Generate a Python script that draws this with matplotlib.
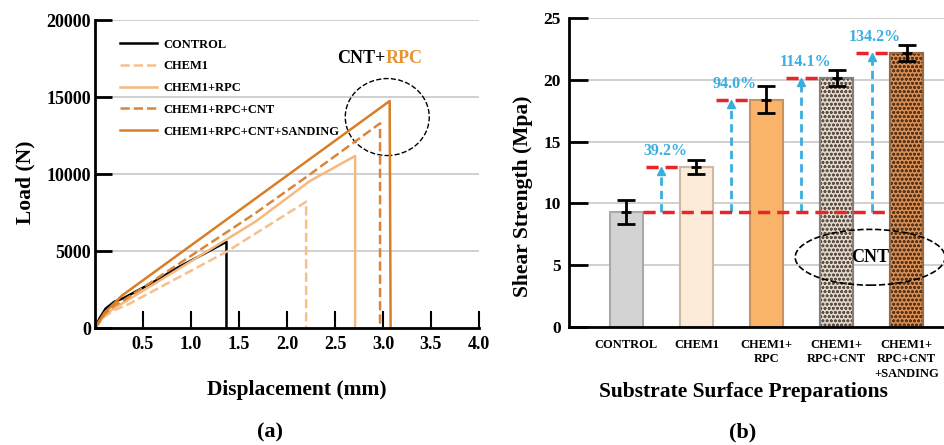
import numpy as np
import matplotlib
matplotlib.use("Agg")
import matplotlib.pyplot as plt
from matplotlib.patches import Ellipse

plt.rcParams['font.family'] = ['Liberation Serif', 'DejaVu Serif']
plt.rcParams['font.weight'] = 'bold'
plt.rcParams['hatch.linewidth'] = 0.8

# ---- (a) load-displacement curves ----
control_x = [0, 0.05, 0.11, 0.2, 0.3, 0.6, 0.87, 1.1, 1.37, 1.37]
control_y = [0, 650, 1250, 1700, 1950, 2950, 3950, 4700, 5600, 0]
chem1_x = [0, 0.1, 0.2, 0.35, 1.37, 2.2, 2.2]
chem1_y = [0, 750, 1150, 1550, 4950, 8200, 0]
chem1_rpc_x = [0, 0.1, 0.2, 0.3, 1.67, 2.24, 2.71, 2.71]
chem1_rpc_y = [0, 800, 1300, 1650, 6900, 9550, 11170, 0]
chem1_rpc_cnt_x = [0, 0.1, 0.2, 0.3, 1.67, 2.2, 2.97, 2.97]
chem1_rpc_cnt_y = [0, 900, 1450, 1800, 7450, 9800, 13290, 0]
sanding_x = [0, 0.1, 0.2, 0.28, 3.07, 3.08]
sanding_y = [0, 1000, 1600, 2100, 14740, 0]

curve_labels = ["CONTROL", "CHEM1", "CHEM1+RPC", "CHEM1+RPC+CNT", "CHEM1+RPC+CNT+SANDING"]
curve_colors = ["#000000", "#F6C08C", "#F5B97F", "#D9863A", "#D87F26"]
curve_styles = ["-", "--", "-", "--", "-"]

# ---- (b) shear strength ----
preps = ["CONTROL", "CHEM1", "CHEM1+\nRPC", "CHEM1+\nRPC+CNT", "CHEM1+\nRPC+CNT\n+SANDING"]
strength = [9.3, 12.95, 18.4, 20.2, 22.2]
strength_err = [1.0, 0.55, 1.1, 0.65, 0.65]
increase_labels = ["39.2%", "94.0%", "114.1%", "134.2%"]

bar_faces = ["#D3D3D3", "#FDEBD9", "#F9B46A", "#E2D8CC", "#D69058"]
bar_edges = ["#A9A9A9", "#CDB8A4", "#C99060", "#8A8078", "#9A6A40"]
bar_hatch = [None, None, None, "oooo", "oooo"]
hatch_colors = [None, None, None, "#5E5248", "#5A3418"]


def style_axis(ax):
    ax.spines['top'].set_visible(False)
    ax.spines['right'].set_visible(False)
    for s in ['left', 'bottom']:
        ax.spines[s].set_linewidth(2)
    ax.grid(axis='y', color='#C8C8C8', linewidth=1.2)
    ax.set_axisbelow(True)


fig = plt.figure(figsize=(9.45, 4.45), dpi=100)

# left panel
ax1 = fig.add_axes([0.1005, 0.2629, 0.4063, 0.6921])
curves = [(control_x, control_y), (chem1_x, chem1_y), (chem1_rpc_x, chem1_rpc_y),
          (chem1_rpc_cnt_x, chem1_rpc_cnt_y), (sanding_x, sanding_y)]
for (xs, ys), lab, c, ls in zip(curves, curve_labels, curve_colors, curve_styles):
    ax1.plot(xs, ys, color=c, linestyle=ls, linewidth=1.8, label=lab)

ax1.set_xlim(0, 4.0)
ax1.set_ylim(0, 20000)
ax1.set_xticks(np.arange(0.5, 4.01, 0.5))
ax1.set_xticklabels([f"{v:.1f}" for v in np.arange(0.5, 4.01, 0.5)])
ax1.set_yticks([0, 5000, 10000, 15000, 20000])
ax1.tick_params(axis='y', direction='in', length=12, width=2, labelsize=13, pad=3)
ax1.tick_params(axis='x', direction='in', length=12, width=1.5, labelsize=13, pad=6)
style_axis(ax1)

ax1.set_xlabel("Displacement (mm)", fontsize=15.5, fontweight='bold')
ax1.xaxis.set_label_coords(0.526, -0.201)
ax1.xaxis.label.set_va('center')
ax1.set_ylabel("Load (N)", fontsize=15.5, fontweight='bold')
ax1.yaxis.set_label_coords(-0.182, 0.474)
ax1.yaxis.label.set_va('center')

ax1.legend(loc='upper left', bbox_to_anchor=(0.065, 0.94), frameon=False,
           fontsize=9, handlelength=3.0, handletextpad=0.5, labelspacing=0.78,
           borderpad=0, borderaxespad=0)

ax1.add_patch(Ellipse((3.045, 13700), 0.875, 5000, fill=False,
                      edgecolor='black', linestyle='--', linewidth=1))
ax1.text(3.03, 17530, "CNT+", color='black', fontsize=13, fontweight='bold',
         ha='right', va='center')
ax1.text(3.03, 17530, "RPC", color='#E8922E', fontsize=13, fontweight='bold',
         ha='left', va='center')

# right panel
ax2 = fig.add_axes([0.6025, 0.2658, 0.3976, 0.693])
xpos = np.arange(len(preps))
bw = 0.467
for i in range(len(preps)):
    ax2.bar(xpos[i], strength[i], width=bw, color=bar_faces[i], edgecolor=bar_edges[i],
            linewidth=1.5, zorder=2)
    if bar_hatch[i]:
        ax2.bar(xpos[i], strength[i], width=bw, facecolor='none',
                edgecolor=hatch_colors[i], hatch=bar_hatch[i], linewidth=0, zorder=2)
        ax2.bar(xpos[i], strength[i], width=bw, facecolor='none',
                edgecolor=bar_edges[i], linewidth=1.5, zorder=2)

ax2.errorbar(xpos, strength, yerr=strength_err, fmt='none', ecolor='black',
             elinewidth=2, capsize=6.5, capthick=2, zorder=5)
ax2.plot(xpos, strength, linestyle='none', marker='_', markersize=7,
         markeredgewidth=2, color='black', zorder=5)

# reference lines and increase arrows
red = '#E8262A'
blue = '#3AAEE0'
base = strength[0]
ax2.plot([bw / 2, xpos[-1] - bw / 2], [base, base], color=red, linewidth=2.5,
         linestyle=(0, (3.5, 2)), zorder=4)
for i in range(1, len(preps)):
    lvl = strength[i]
    ax2.plot([xpos[i] - 0.72, xpos[i] - 0.25], [lvl, lvl], color=red, linewidth=2.5,
             linestyle=(0, (3.5, 2)), zorder=4)
    ax_x = xpos[i] - 0.5
    ax2.plot([ax_x, ax_x], [base, lvl - 0.35], color=blue, linewidth=2,
             linestyle=(0, (3, 1.8)), zorder=3)
    ax2.plot(ax_x, lvl - 0.35, marker='^', markersize=6, color=blue, zorder=3)
    ax2.text(xpos[i] - 0.45, lvl + 1.3, increase_labels[i - 1], color=blue,
             fontsize=11.5, fontweight='bold', ha='center', va='center')

ax2.add_patch(Ellipse((3.48, 5.63), 2.14, 4.52, fill=False, edgecolor='black',
                      linestyle='--', linewidth=1.2, clip_on=False, zorder=6))
ax2.text(3.48, 5.63, "CNT", fontsize=13, fontweight='bold', ha='center',
         va='center', zorder=6)

ax2.set_xlim(-0.814, 4.55)
ax2.set_ylim(0, 25)
ax2.set_yticks([0, 5, 10, 15, 20, 25])
ax2.set_xticks(xpos)
ax2.set_xticklabels(preps, fontsize=9, linespacing=1.25)
ax2.tick_params(axis='x', length=0, pad=9)
ax2.tick_params(axis='y', direction='in', length=14, width=2, labelsize=12.5, pad=6)
style_axis(ax2)

ax2.set_xlabel("Substrate Surface Preparations", fontsize=15.5, fontweight='bold')
ax2.xaxis.set_label_coords(0.463, -0.211)
ax2.xaxis.label.set_va('center')
ax2.set_ylabel("Shear Strength (Mpa)", fontsize=15.5, fontweight='bold')
ax2.yaxis.set_label_coords(-0.123, 0.424)
ax2.yaxis.label.set_va('center')

fig.text(270 / 945, 1 - 432 / 445, "(a)", fontsize=16, fontweight='bold',
         ha='center', va='center')
fig.text(743 / 945, 1 - 432 / 445, "(b)", fontsize=16, fontweight='bold',
         ha='center', va='center')

fig.savefig("out.png", dpi=100)
